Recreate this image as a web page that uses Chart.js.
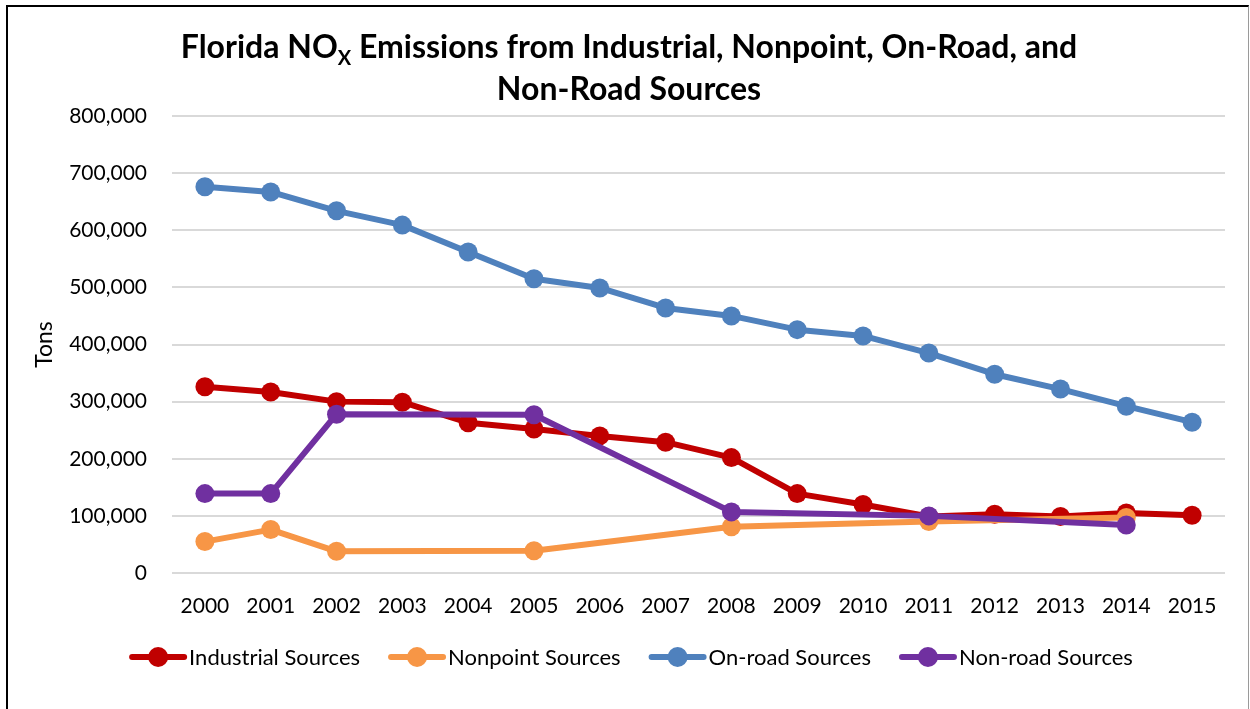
<!DOCTYPE html>
<html>
<head>
<meta charset="utf-8">
<script src="https://cdn.jsdelivr.net/npm/chart.js@4.4.0/dist/chart.umd.min.js"></script>
<style>
html,body{margin:0;padding:0;background:#fff;}
#wrap{position:relative;width:1250px;height:709px;overflow:hidden;}
#frame{position:absolute;left:6px;top:5px;width:1243px;height:730px;border-left:2px solid #000;border-top:2px solid #000;border-right:1px solid #9a9a9a;box-sizing:border-box;}
canvas{position:absolute;left:0;top:0;}
</style>
</head>
<body>
<div id="wrap"><div id="frame"></div><canvas id="c" width="1250" height="709"></canvas></div>
<script>
// ---- data ----
const years = ['2000','2001','2002','2003','2004','2005','2006','2007','2008','2009','2010','2011','2012','2013','2014','2015'];
const industrial = [326000,317000,300000,299000,263000,252000,240000,229000,202000,139000,120000,99000,103000,99000,105000,101000];
const nonpoint   = [55000,76000,38000,null,null,39000,null,null,81000,null,null,90000,null,null,97000,null];
const onroad     = [676000,667000,634000,609000,562000,515000,499000,464000,450000,426000,415000,385000,348000,322000,292000,264000];
const nonroad    = [139000,139000,278000,null,null,277000,null,null,107000,null,null,100000,null,null,84000,null];
const seriesNames = ['Industrial Sources','Nonpoint Sources','On-road Sources','Non-road Sources'];
const seriesColors = ['#C00000','#F79646','#4F81BD','#7030A0'];
const yTicks = {min:0, max:800000, step:100000};
const titleLine1 = ['Florida NO','X',' Emissions from Industrial, Nonpoint, On-Road, and'];
const titleLine2 = 'Non-Road Sources';
const yTitle = 'Tons';

const FONT = 'Lato';

function mkDs(label, data, color, order){
  return {label, data, borderColor:color, backgroundColor:color,
    pointBackgroundColor:color, pointBorderColor:color, pointBorderWidth:0,
    pointRadius:9.5, pointHoverRadius:9.5, borderWidth:6, tension:0,
    spanGaps:true, borderJoinStyle:'round', borderCapStyle:'round', order};
}

const titlePlugin = {
  id:'subTitle',
  afterDraw(chart){
    const ctx = chart.ctx; ctx.save();
    ctx.fillStyle = '#000'; ctx.textBaseline = 'alphabetic';
    const big = 'bold 32px ' + FONT, small = 'bold 20px ' + FONT;
    ctx.font = big; const w0 = ctx.measureText(titleLine1[0]).width;
    const w2 = ctx.measureText(titleLine1[2]).width;
    ctx.font = small; const w1 = ctx.measureText(titleLine1[1]).width;
    const cx = 629; let x = cx - (w0+w1+w2)/2; const y1 = 58;
    ctx.textAlign = 'left';
    ctx.font = big; ctx.fillText(titleLine1[0], x, y1); x += w0;
    ctx.font = small; ctx.fillText(titleLine1[1], x, y1+7); x += w1;
    ctx.font = big; ctx.fillText(titleLine1[2], x, y1);
    ctx.textAlign = 'center';
    ctx.fillText(titleLine2, cx, 100);
    ctx.restore();
  }
};

const legendPlugin = {
  id:'lineLegend',
  afterDraw(chart){
    const ctx = chart.ctx; ctx.save();
    ctx.font = '22px ' + FONT; ctx.textBaseline = 'middle'; ctx.textAlign = 'left';
    const items = chart.data.datasets.map(ds => ({t:ds.label, c:ds.borderColor, w:60 + ctx.measureText(ds.label).width}));
    const gap = 28;
    const total = items.reduce((a,b)=>a+b.w,0) + gap*(items.length-1);
    let x = 631 - total/2; const y = 657;
    items.forEach(it => {
      ctx.strokeStyle = it.c; ctx.lineWidth = 6; ctx.lineCap = 'round';
      ctx.beginPath(); ctx.moveTo(x+3, y); ctx.lineTo(x+55, y); ctx.stroke();
      ctx.fillStyle = it.c; ctx.beginPath(); ctx.arc(x+29, y, 10, 0, Math.PI*2); ctx.fill();
      ctx.fillStyle = '#000'; ctx.fillText(it.t, x+60, y+1);
      x += it.w + gap;
    });
    ctx.restore();
  }
};

const tickFont = {family:FONT, size:21};

new Chart(document.getElementById('c'), {
  type:'line',
  data:{
    labels: years,
    datasets:[
      mkDs(seriesNames[0], industrial, seriesColors[0], 3),
      mkDs(seriesNames[1], nonpoint, seriesColors[1], 2),
      mkDs(seriesNames[2], onroad, seriesColors[2], 1),
      mkDs(seriesNames[3], nonroad, seriesColors[3], 0)
    ]
  },
  options:{
    responsive:false, animation:false, devicePixelRatio:1,
    layout:{padding:{left:12, right:25, top:116, bottom:86}},
    plugins:{legend:{display:false}, tooltip:{enabled:false}, title:{display:false}},
    events:[],
    scales:{
      x:{
        offset:true,
        grid:{display:false}, border:{display:false},
        ticks:{font:tickFont, color:'#000', padding:13, maxRotation:0, autoSkip:false},
        afterFit(s){ s.height = 50; }
      },
      y:{
        min:yTicks.min, max:yTicks.max,
        grid:{color:'#D9D9D9', lineWidth:2, drawTicks:false},
        border:{display:false},
        ticks:{stepSize:yTicks.step, font:tickFont, color:'#000', padding:25,
          callback:v => v.toLocaleString('en-US')},
        title:{display:true, text:yTitle, font:{family:FONT, size:23}, color:'#000', padding:{top:19, bottom:0}},
        afterFit(s){ s.width = 160; }
      }
    }
  },
  plugins:[titlePlugin, legendPlugin]
});
</script>
</body>
</html>
